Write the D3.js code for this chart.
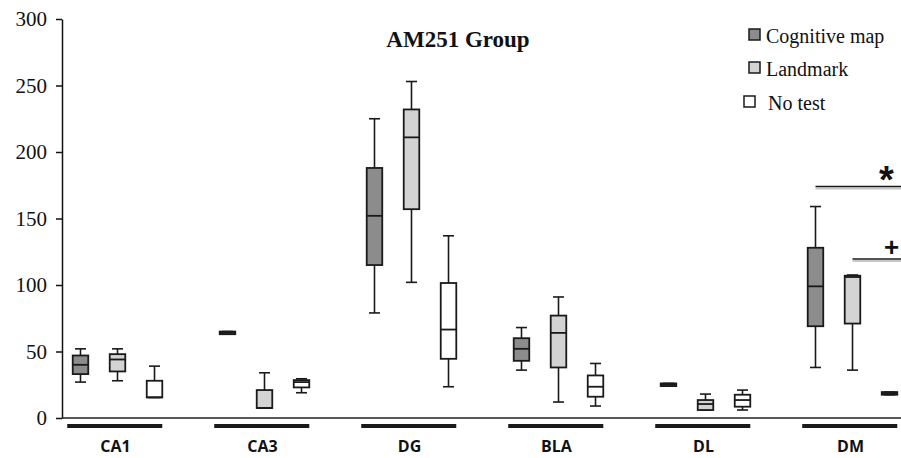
<!DOCTYPE html>
<html>
<head>
<meta charset="utf-8">
<script src="https://cdn.jsdelivr.net/npm/d3@7"></script>
<style>
  body { margin: 0; background: #fff; }
  svg { display: block; }
</style>
</head>
<body>
<div id="chart"></div>
<script>
// values, each box is [min, q1, median, q3, max]
const groups = ["CA1", "CA3", "DG", "BLA", "DL", "DM"];
const series = ["Cognitive map", "Landmark", "No test"];

const cognitiveMap = [
  [27, 33, 40, 47, 52],
  [63, 63, 64, 65, 65],
  [79, 115, 152, 188, 225],
  [36, 43, 52, 60, 68],
  [24, 24, 25, 26, 26],
  [38, 69, 99, 128, 159]
];
const landmark = [
  [28, 35, 44, 48, 52],
  [7.5, 7.5, 7.5, 21, 34],
  [102, 157, 211, 232, 253],
  [12, 38, 64, 77, 91],
  [6, 6, 10.5, 13.5, 18],
  [36, 71, 106, 107, 107.5]
];
const noTest = [
  [15.5, 15.5, 15.5, 28, 39],
  [19, 23, 27, 28.5, 29.5],
  [23.5, 44.5, 66.5, 101.5, 137],
  [9, 16, 23.5, 32, 41],
  [6, 8.5, 13.5, 17.5, 21],
  [17.5, 17.5, 18.5, 19.5, 19.5]
];

const yTicks = [0, 50, 100, 150, 200, 250, 300];

// significance marks over DM
const sigLabels = ["*", "+"];
const sigLevels = [174, 119.5];
const sigFrom = ["Cognitive map", "Landmark"];

const colors = ["#8c8c8c", "#d3d3d3", "#ffffff"];
const boxValues = [cognitiveMap, landmark, noTest];

const serif = "'Liberation Serif', 'Times New Roman', serif";
const width = 901;
const height = 458;

const svg = d3.select("#chart").append("svg")
  .attr("width", width)
  .attr("height", height);

const y = d3.scaleLinear()
  .domain([0, 300])
  .range([418, 19]);

const x0 = d3.scaleBand()
  .domain(groups)
  .range([44, 44 + 147 * groups.length]);

const x1 = d3.scaleBand()
  .domain(series)
  .range([0, x0.bandwidth()])
  .paddingInner(0.58)
  .paddingOuter(0.776);

// flatten into one record per box
let boxes = [];
series.forEach((s, si) => {
  groups.forEach((g, gi) => {
    let v = boxValues[si][gi];
    boxes.push({
      series: s, group: g, color: colors[si],
      min: v[0], q1: v[1], med: v[2], q3: v[3], max: v[4],
      x: x0(g) + x1(s)
    });
  });
});

// y axis
const yAxis = svg.append("g")
  .attr("transform", "translate(62,0)")
  .call(d3.axisLeft(y).tickValues(yTicks).tickSize(6).tickSizeOuter(0).tickPadding(9));
yAxis.attr("font-family", null).attr("font-size", null);
yAxis.select(".domain").attr("stroke", "#111").attr("stroke-width", 1.5);
yAxis.selectAll(".tick line").attr("stroke", "#111").attr("stroke-width", 1.5);
yAxis.selectAll(".tick text")
  .style("font-family", serif)
  .style("font-size", "21px")
  .attr("fill", "#111");

// baseline
svg.append("line")
  .attr("x1", 62).attr("x2", width)
  .attr("y1", y(0)).attr("y2", y(0))
  .attr("stroke", "#222")
  .attr("stroke-width", 1.5);

// group bars and labels under the axis
const bw = x1.bandwidth();
svg.append("g")
  .selectAll("line")
  .data(groups)
  .join("line")
    .attr("x1", d => x0(d) + x1(series[0]) - 5.5)
    .attr("x2", d => x0(d) + x1(series[2]) + bw)
    .attr("y1", 426).attr("y2", 426)
    .attr("stroke", "#1a1a1a")
    .attr("stroke-width", 4);

svg.append("g")
  .selectAll("text")
  .data(groups)
  .join("text")
    .attr("x", d => x0(d) + x0.bandwidth() / 2 - 2)
    .attr("y", 452)
    .attr("text-anchor", "middle")
    .attr("font-family", "'Open Sans', sans-serif")
    .attr("font-weight", "bold")
    .attr("font-size", 16)
    .attr("fill", "#111")
    .text(d => d);

// boxes
const capW = 11;
const bx = svg.append("g")
  .selectAll("g")
  .data(boxes)
  .join("g");

bx.append("line")
  .attr("x1", d => d.x + bw / 2).attr("x2", d => d.x + bw / 2)
  .attr("y1", d => y(d.max)).attr("y2", d => y(d.q3))
  .attr("stroke", "#1a1a1a").attr("stroke-width", 1.6);
bx.append("line")
  .attr("x1", d => d.x + bw / 2).attr("x2", d => d.x + bw / 2)
  .attr("y1", d => y(d.q1)).attr("y2", d => y(d.min))
  .attr("stroke", "#1a1a1a").attr("stroke-width", 1.6);
bx.append("line")
  .attr("x1", d => d.x + bw / 2 - capW / 2).attr("x2", d => d.x + bw / 2 + capW / 2)
  .attr("y1", d => y(d.max)).attr("y2", d => y(d.max))
  .attr("stroke", "#1a1a1a").attr("stroke-width", 1.6);
bx.append("line")
  .attr("x1", d => d.x + bw / 2 - capW / 2).attr("x2", d => d.x + bw / 2 + capW / 2)
  .attr("y1", d => y(d.min)).attr("y2", d => y(d.min))
  .attr("stroke", "#1a1a1a").attr("stroke-width", 1.6);
bx.append("rect")
  .attr("x", d => d.x)
  .attr("width", bw)
  .attr("y", d => y(d.q3))
  .attr("height", d => y(d.q1) - y(d.q3))
  .attr("fill", d => d.color)
  .attr("stroke", "#1a1a1a")
  .attr("stroke-width", 1.8);
bx.append("line")
  .attr("x1", d => d.x).attr("x2", d => d.x + bw)
  .attr("y1", d => y(d.med)).attr("y2", d => y(d.med))
  .attr("stroke", "#1a1a1a").attr("stroke-width", 1.8);

// title
svg.append("text")
  .attr("x", 458)
  .attr("y", 47)
  .attr("text-anchor", "middle")
  .attr("font-family", serif)
  .attr("font-weight", "bold")
  .attr("font-size", 23)
  .attr("fill", "#111")
  .text("AM251 Group");

// legend
const legX = [749, 749, 744];
const legY = [29, 62, 96];
const legTextX = [766, 766, 768];
const legend = svg.append("g")
  .selectAll("g")
  .data(series)
  .join("g");
legend.append("rect")
  .attr("x", (d, i) => legX[i])
  .attr("y", (d, i) => legY[i])
  .attr("width", 11).attr("height", 11)
  .attr("fill", (d, i) => colors[i])
  .attr("stroke", "#1a1a1a")
  .attr("stroke-width", 1.5);
legend.append("text")
  .attr("x", (d, i) => legTextX[i])
  .attr("y", (d, i) => legY[i] + 14)
  .attr("font-family", serif)
  .attr("font-size", 20)
  .attr("fill", "#111")
  .text(d => d);

// significance lines, with a soft gray shadow underneath
const sig = svg.append("g")
  .selectAll("g")
  .data(sigLabels)
  .join("g");
sig.append("line")
  .attr("x1", (d, i) => x0("DM") + x1(sigFrom[i]) + bw / 2)
  .attr("x2", width)
  .attr("y1", (d, i) => y(sigLevels[i]) + 2)
  .attr("y2", (d, i) => y(sigLevels[i]) + 2)
  .attr("stroke", "#c8c8c8")
  .attr("stroke-width", 2);
sig.append("line")
  .attr("x1", (d, i) => x0("DM") + x1(sigFrom[i]) + bw / 2)
  .attr("x2", width)
  .attr("y1", (d, i) => y(sigLevels[i]))
  .attr("y2", (d, i) => y(sigLevels[i]))
  .attr("stroke", "#1a1a1a")
  .attr("stroke-width", 1.5);
sig.append("text")
  .attr("x", (d, i) => i == 0 ? 879 : 884)
  .attr("y", (d, i) => y(sigLevels[i]) - (i == 0 ? -6 : 3))
  .attr("font-family", "'Liberation Sans', Arial, sans-serif")
  .attr("font-weight", "bold")
  .attr("font-size", (d, i) => i == 0 ? 38 : 26)
  .attr("fill", "#111")
  .text(d => d);
</script>
</body>
</html>
